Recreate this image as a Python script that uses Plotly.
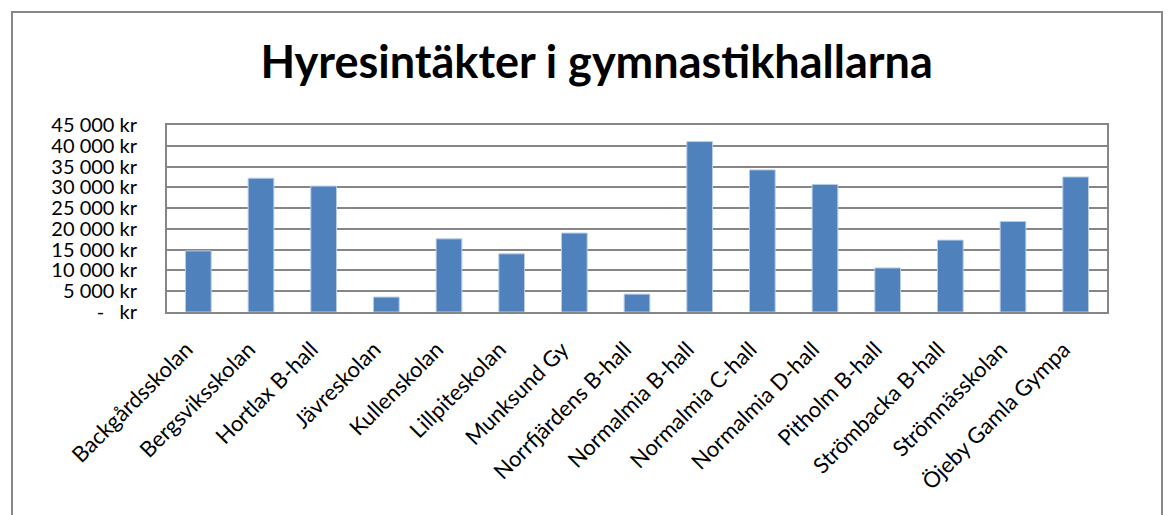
import plotly.graph_objects as go

halls = [
    "Backgårdsskolan", "Bergsviksskolan", "Hortlax B-hall", "Jävreskolan",
    "Kullenskolan", "Lillpiteskolan", "Munksund Gy", "Norrfjärdens B-hall",
    "Normalmia B-hall", "Normalmia C-hall", "Normalmia D-hall", "Pitholm B-hall",
    "Strömbacka B-hall", "Strömnässkolan", "Öjeby Gamla Gympa",
]
income = [
    14700, 32200, 30300, 3600, 17600, 14000, 19000, 4300,
    41000, 34200, 30700, 10600, 17300, 21800, 32500,
]
tick_vals = [0, 5000, 10000, 15000, 20000, 25000, 30000, 35000, 40000, 45000]
tick_text = ["-   kr", "5 000 kr", "10 000 kr", "15 000 kr", "20 000 kr",
             "25 000 kr", "30 000 kr", "35 000 kr", "40 000 kr", "45 000 kr"]

FONT = "Lato"

fig = go.Figure(
    go.Bar(
        x=halls,
        y=income,
        marker=dict(color="#4F81BD", line=dict(color="#B9CDE5", width=1)),
    )
)

# page body adds ~8px offset, margins compensate for it
fig.update_layout(
    width=1173,
    height=515,
    margin=dict(l=159, r=74, t=117, b=211, autoexpand=False),
    paper_bgcolor="white",
    plot_bgcolor="white",
    bargap=0.59,
    showlegend=False,
    font=dict(family=FONT, color="black"),
    title=dict(
        text="<b>Hyresintäkter i gymnastikhallarna</b>",
        x=0.457,
        xref="paper",
        xanchor="center",
        y=0.895,
        yanchor="middle",
        font=dict(family=FONT, size=45, color="black"),
    ),
)

fig.update_xaxes(
    tickangle=-45,
    tickfont=dict(size=22),
    ticklabelstandoff=14,
    ticklabelshift=-12,
    automargin=False,
    showline=True,
    linecolor="#868686",
    linewidth=2,
    mirror=True,
    showgrid=False,
)
fig.update_yaxes(
    range=[0, 45000],
    tickvals=tick_vals,
    ticktext=tick_text,
    tickfont=dict(size=20),
    ticklabelstandoff=24,
    automargin=False,
    showgrid=True,
    gridcolor="#868686",
    gridwidth=2,
    showline=True,
    linecolor="#868686",
    linewidth=2,
    mirror=True,
    zeroline=False,
)

# outer chart frame
fig.add_shape(
    type="rect", xref="paper", yref="paper",
    x0=-155 / 940, x1=995 / 940, y0=-300 / 187, y1=300 / 187,
    line=dict(color="#888888", width=2), fillcolor="rgba(0,0,0,0)",
    layer="below",
)

fig.write_html("out.html")
